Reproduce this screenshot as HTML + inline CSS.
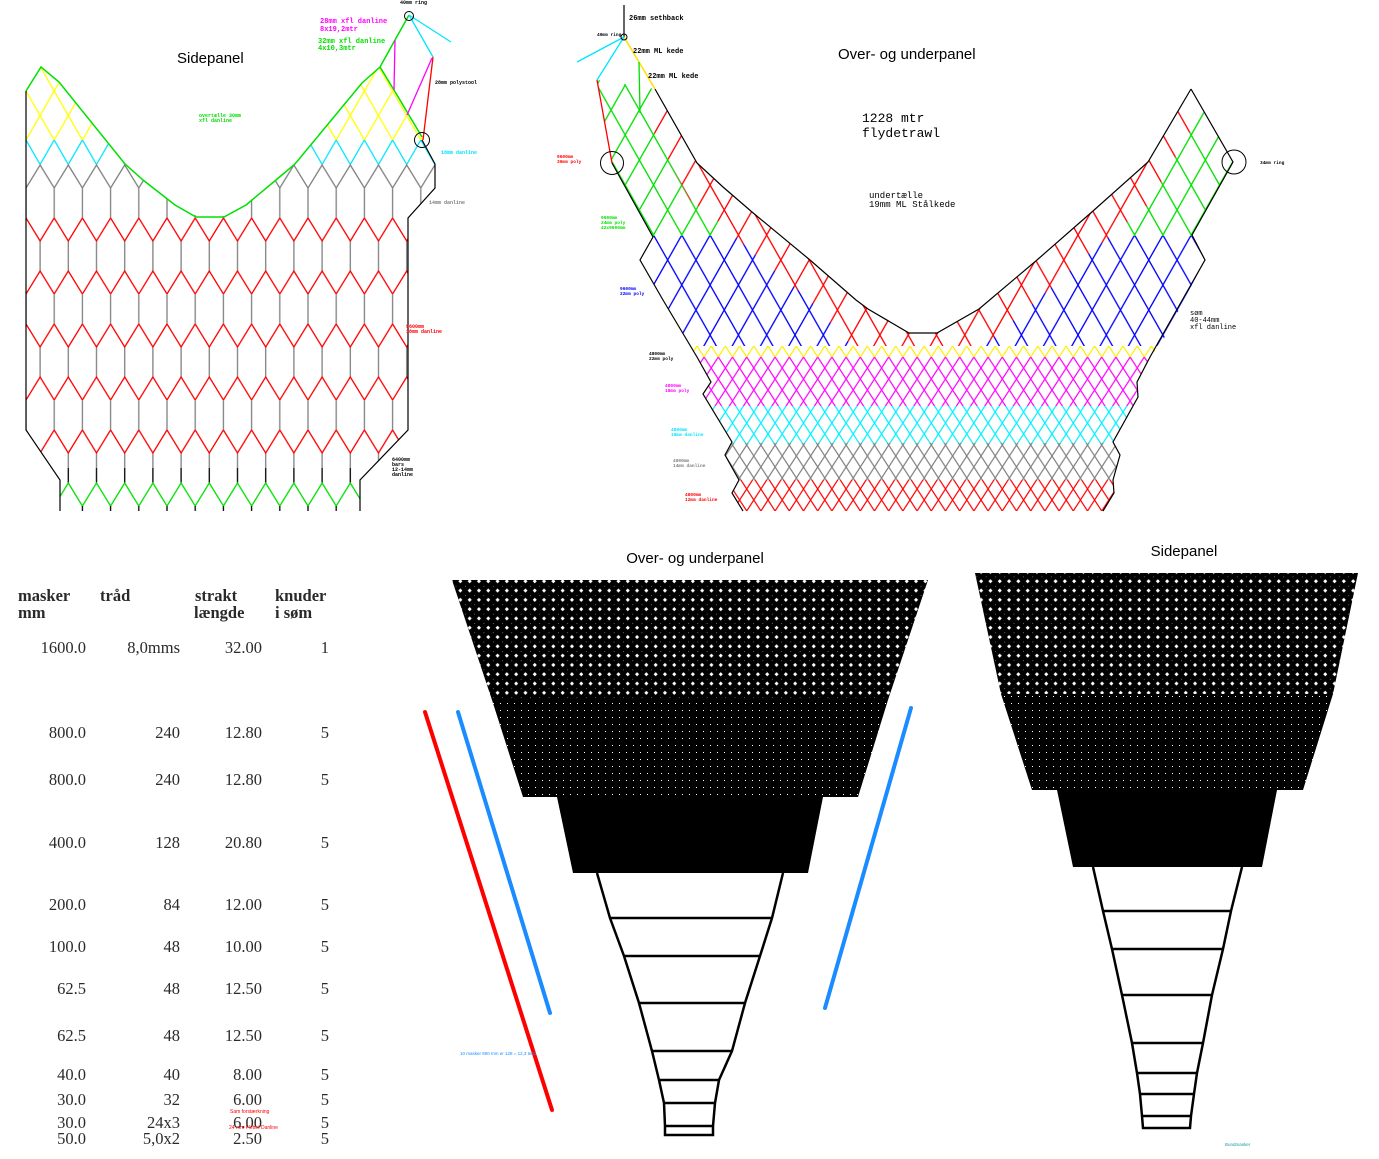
<!DOCTYPE html>
<html><head><meta charset="utf-8"><style>
html,body{margin:0;padding:0;background:#fff;}
svg{display:block}
.t{font-family:"Liberation Sans",sans-serif}
.m{font-family:"Liberation Mono",monospace}
.s{font-family:"Liberation Serif",serif;fill:#2a2a2a;font-size:16.5px}
</style></head><body>
<svg width="1379" height="1159" viewBox="0 0 1379 1159" xmlns="http://www.w3.org/2000/svg">
<defs>
<pattern id="hexR" patternUnits="userSpaceOnUse" x="26" y="188" width="28.2" height="106">
<path d="M0,0V30M28.2,0V30M14.1,53V83" stroke="#808080" stroke-width="1.3" fill="none"/>
<path d="M0,30L14.1,53L28.2,30M0,106L14.1,83L28.2,106" stroke="#ff0000" stroke-width="1.3" fill="none"/>
</pattern>
<pattern id="hexG" patternUnits="userSpaceOnUse" x="26" y="188" width="28.2" height="106">
<path d="M0,0V30M28.2,0V30M14.1,53V83M0,30L14.1,53L28.2,30M0,106L14.1,83L28.2,106" stroke="#808080" stroke-width="1.3" fill="none"/>
</pattern>
<pattern id="hexB" patternUnits="userSpaceOnUse" x="26" y="188" width="28.2" height="106">
<path d="M0,0V30M28.2,0V30M14.1,53V83" stroke="#000" stroke-width="1.3" fill="none"/>
<path d="M0,30L14.1,53L28.2,30M0,106L14.1,83L28.2,106" stroke="#00e000" stroke-width="1.3" fill="none"/>
</pattern>
<pattern id="dY" patternUnits="userSpaceOnUse" x="26" y="140" width="28.2" height="49"><path d="M0,0L28.2,49M28.2,0L0,49" stroke="#ffff00" stroke-width="1.3"/></pattern>
<pattern id="dC" patternUnits="userSpaceOnUse" x="26" y="140" width="28.2" height="49"><path d="M0,0L28.2,49M28.2,0L0,49" stroke="#00e5ff" stroke-width="1.3"/></pattern>
<pattern id="bB" patternUnits="userSpaceOnUse" x="1078" y="235" width="28.3" height="50"><path d="M0,0L28.3,50M28.3,0L0,50" stroke="#0000ff" stroke-width="1.3"/></pattern>
<pattern id="bG" patternUnits="userSpaceOnUse" x="1078" y="235" width="28.3" height="50"><path d="M0,0L28.3,50M28.3,0L0,50" stroke="#00e000" stroke-width="1.3"/></pattern>
<pattern id="bR" patternUnits="userSpaceOnUse" x="1078" y="235" width="28.3" height="50"><path d="M0,0L28.3,50M28.3,0L0,50" stroke="#ff0000" stroke-width="1.3"/></pattern>
<pattern id="fY" patternUnits="userSpaceOnUse" x="697" y="346" width="14.2" height="22"><path d="M0,0L14.2,22M14.2,0L0,22" stroke="#ffee00" stroke-width="1.2"/></pattern>
<pattern id="fM" patternUnits="userSpaceOnUse" x="697" y="346" width="14.2" height="22"><path d="M0,0L14.2,22M14.2,0L0,22" stroke="#ff00ff" stroke-width="1.2"/></pattern>
<pattern id="fC" patternUnits="userSpaceOnUse" x="697" y="346" width="14.2" height="22"><path d="M0,0L14.2,22M14.2,0L0,22" stroke="#00f0ff" stroke-width="1.2"/></pattern>
<pattern id="fG" patternUnits="userSpaceOnUse" x="697" y="346" width="14.2" height="22"><path d="M0,0L14.2,22M14.2,0L0,22" stroke="#808080" stroke-width="1.2"/></pattern>
<pattern id="fR" patternUnits="userSpaceOnUse" x="697" y="346" width="14.2" height="22"><path d="M0,0L14.2,22M14.2,0L0,22" stroke="#ff0000" stroke-width="1.2"/></pattern>
<pattern id="net1" patternUnits="userSpaceOnUse" x="0" y="0" width="9.3" height="9.3">
<rect width="9.3" height="9.3" fill="#000"/>
<path d="M4.65,2.6L6.7,4.65L4.65,6.7L2.6,4.65Z" fill="#fff"/>
<path d="M0,0.9L0.9,0L0,-0.9Z" fill="#fff"/>
</pattern>
<pattern id="net2" patternUnits="userSpaceOnUse" x="0" y="0" width="7" height="7">
<rect width="7" height="7" fill="#000"/>
<rect x="3" y="3" width="1" height="1" fill="#fff"/>
</pattern>
<clipPath id="earL"><polygon points="26,91 41,67 59,82 125,164 26,164"/><polygon points="295,164 362,83 380,67 394,90 422,137 435,164"/></clipPath>
<clipPath id="hexReg"><polygon points="26,164 125,164 143,180 175,204 197,216 224,216 246,204 276,180 295,164 435,164 435,188 408,218 408,430 360,480 360,511 60,511 60,480 26,430"/></clipPath>
<clipPath id="upReg"><polygon points="597,80 655,89 697,163 723,187 752,212 810,260 856,300 868,309 909,333 937,333 979,309 1037,260 1093,211 1148,162 1191,89 1233,162 1192,235 1205,260 1160,346 690,346 663,300 640,260 653,237 612,163"/></clipPath>
<clipPath id="redReg"><polygon points="655,89 697,163 723,187 752,212 810,260 856,300 868,309 909,333 937,333 979,309 1037,260 1093,211 1148,162 1191,89 1191,130 1148,205 1093,250 1037,300 979,350 909,360 856,350 810,300 752,252 723,225 690,200 650,125"/></clipPath>
<clipPath id="fineReg"><polygon points="690,346 1160,346 1150,357 1137,382 1138,397 1113,442 1120,455 1113,480 1114,493 1103,511 743,511 732,493 739,480 725,455 732,442 703,394 711,382 697,357"/></clipPath>
</defs>

<!-- ===== Sidepanel top-left ===== -->
<g clip-path="url(#earL)">
<rect x="0" y="60" width="460" height="80" fill="url(#dY)"/>
<rect x="0" y="140" width="460" height="24" fill="url(#dC)"/>
</g>
<g clip-path="url(#hexReg)">
<rect x="0" y="150" width="460" height="40" fill="url(#hexG)"/>
<rect x="0" y="190" width="460" height="278" fill="url(#hexR)"/>
<rect x="0" y="468" width="460" height="45" fill="url(#hexB)"/>
</g>
<polyline points="26,91 41,67 59,82 125,164 143,180 175,205 196,217 224,217 246,205 276,180 295,164 362,83 380,67 395,40 409,15" fill="none" stroke="#00e000" stroke-width="1.5"/>
<polyline points="380,67 394,90 422,137" fill="none" stroke="#00e000" stroke-width="1.5"/>
<polyline points="26,91 26,430 60,480 60,511" fill="none" stroke="#000" stroke-width="1.2"/>
<polyline points="422,140 435,164 435,188 408,218 408,430 360,480 360,511" fill="none" stroke="#000" stroke-width="1.2"/>
<line x1="409" y1="15" x2="433" y2="57" stroke="#00e5ff" stroke-width="1.3"/>
<line x1="409" y1="15" x2="451" y2="42" stroke="#00e5ff" stroke-width="1.3"/>
<line x1="433" y1="57" x2="423" y2="140" stroke="#ff0000" stroke-width="1.3"/>
<line x1="395" y1="40" x2="394" y2="90" stroke="#ff00ff" stroke-width="1.3"/>
<line x1="432" y1="58" x2="407" y2="115" stroke="#ff00ff" stroke-width="1.3"/>
<circle cx="409" cy="16" r="4.5" fill="none" stroke="#000"/>
<circle cx="422" cy="140" r="7.5" fill="none" stroke="#000"/>
<text class="t" x="177" y="63" font-size="15">Sidepanel</text>
<g class="m" font-size="7" font-weight="bold">
<text x="400" y="4" font-size="5">40mm ring</text>
<text x="320" y="23" fill="#ff00ff">28mm xfl danline</text>
<text x="320" y="31" fill="#ff00ff">8x19,2mtr</text>
<text x="318" y="43" fill="#00e000">32mm xfl danline</text>
<text x="318" y="50" fill="#00e000">4x10,3mtr</text>
<text x="199" y="117" fill="#00e000" font-size="5">overtælle 30mm</text>
<text x="199" y="122" fill="#00e000" font-size="5">xfl danline</text>
<text x="435" y="84" font-size="5">28mm polystool</text>
<text x="441" y="154" fill="#00e5ff" font-size="5">18mm danline</text>
<text x="429" y="204" fill="#808080" font-size="5">14mm danline</text>
<text x="406" y="328" fill="#ff0000" font-size="5">9600mm</text>
<text x="406" y="333" fill="#ff0000" font-size="5">18mm danline</text>
<text x="392" y="461" font-size="5">6400mm</text>
<text x="392" y="466" font-size="5">bars</text>
<text x="392" y="471" font-size="5">12-14mm</text>
<text x="392" y="476" font-size="5">danline</text>
</g>

<!-- ===== Over- og underpanel top-right ===== -->
<g clip-path="url(#upReg)">
<rect x="580" y="60" width="680" height="290" fill="url(#bB)"/>
<rect x="580" y="60" width="680" height="176" fill="#fff"/>
<rect x="580" y="60" width="680" height="176" fill="url(#bG)"/>
<g clip-path="url(#redReg)"><rect x="580" y="60" width="680" height="290" fill="#fff"/><rect x="580" y="60" width="680" height="290" fill="url(#bR)"/></g>
</g>
<g clip-path="url(#fineReg)">
<rect x="680" y="346" width="490" height="11" fill="url(#fY)"/>
<rect x="680" y="357" width="490" height="49" fill="url(#fM)"/>
<rect x="680" y="406" width="490" height="37" fill="url(#fC)"/>
<rect x="680" y="443" width="490" height="37" fill="url(#fG)"/>
<rect x="680" y="480" width="490" height="35" fill="url(#fR)"/>
</g>
<polyline points="612,163 653,237 640,260 663,300 697,357 711,382 703,394 732,442 725,455 739,480 732,493 743,511" fill="none" stroke="#000" stroke-width="1.2"/>
<polyline points="1191,89 1233,162 1192,235 1205,260 1150,357 1137,382 1138,397 1113,442 1120,455 1113,480 1114,493 1103,511" fill="none" stroke="#000" stroke-width="1.2"/>
<polyline points="655,89 697,163 723,187 752,212 810,260 856,300 868,309 909,333 937,333 979,309 1037,260 1093,211 1148,162 1191,89" fill="none" stroke="#000" stroke-width="1.2"/>
<line x1="624" y1="5" x2="624" y2="37" stroke="#000" stroke-width="1.2"/>
<polyline points="624,37 639,62 655,89" fill="none" stroke="#ffe000" stroke-width="1.5"/>
<line x1="639" y1="62" x2="640" y2="113" stroke="#00e000" stroke-width="1.3"/>
<line x1="624" y1="37" x2="577" y2="62" stroke="#00e5ff" stroke-width="1.3"/>
<line x1="624" y1="37" x2="597" y2="80" stroke="#00e5ff" stroke-width="1.3"/>
<line x1="597" y1="80" x2="612" y2="163" stroke="#ff0000" stroke-width="1.3"/>
<circle cx="624" cy="37" r="3" fill="none" stroke="#000"/>
<circle cx="612" cy="163" r="11.5" fill="none" stroke="#000"/>
<circle cx="1234" cy="162" r="12" fill="none" stroke="#000"/>
<text class="t" x="838" y="59" font-size="15">Over- og underpanel</text>
<g class="m" font-weight="bold">
<text x="629" y="20" font-size="7">26mm sethback</text>
<text x="597" y="36" font-size="4.5">40mm ring</text>
<text x="633" y="53" font-size="7">22mm ML kede</text>
<text x="648" y="78" font-size="7">22mm ML kede</text>
<text x="1260" y="164" font-size="4.5">34mm ring</text>
<text x="1190" y="315" font-size="7" font-weight="normal">søm</text>
<text x="1190" y="322" font-size="7" font-weight="normal">40-44mm</text>
<text x="1190" y="329" font-size="7" font-weight="normal">xfl danline</text>
<text x="557" y="158" font-size="4.5" fill="#ff0000">9600mm</text><text x="557" y="163" font-size="4.5" fill="#ff0000">30mm poly</text>
<text x="601" y="219" font-size="4.5" fill="#00e000">9600mm</text><text x="601" y="224" font-size="4.5" fill="#00e000">24mm poly</text><text x="601" y="229" font-size="4.5" fill="#00e000">42x9600mm</text>
<text x="620" y="290" font-size="4.5" fill="#0000ff">9600mm</text><text x="620" y="295" font-size="4.5" fill="#0000ff">22mm poly</text>
<text x="649" y="355" font-size="4.5">4800mm</text><text x="649" y="360" font-size="4.5">22mm poly</text>
<text x="665" y="387" font-size="4.5" fill="#ff00ff">4800mm</text><text x="665" y="392" font-size="4.5" fill="#ff00ff">18mm poly</text>
<text x="671" y="431" font-size="4.5" fill="#00e5ff">4800mm</text><text x="671" y="436" font-size="4.5" fill="#00e5ff">18mm danline</text>
<text x="673" y="462" font-size="4.5" fill="#808080">4800mm</text><text x="673" y="467" font-size="4.5" fill="#808080">14mm danline</text>
<text x="685" y="496" font-size="4.5" fill="#ff0000">4800mm</text><text x="685" y="501" font-size="4.5" fill="#ff0000">12mm danline</text>
</g>
<text class="m" x="862" y="122" font-size="13">1228 mtr</text>
<text class="m" x="862" y="137" font-size="13">flydetrawl</text>
<text class="m" x="869" y="198" font-size="9">undertælle</text>
<text class="m" x="869" y="207" font-size="9">19mm ML Stålkede</text>

<!-- ===== Table ===== -->
<g class="s" font-weight="bold">
<text x="18" y="601">masker</text><text x="18" y="618">mm</text>
<text x="100" y="601">tråd</text>
<text x="195" y="601">strakt</text><text x="194" y="618">længde</text>
<text x="275" y="601">knuder</text><text x="275" y="618">i søm</text>
</g>
<g class="s" text-anchor="end">
<text x="86" y="653">1600.0</text><text x="180" y="653">8,0mms</text><text x="262" y="653">32.00</text><text x="329" y="653">1</text>
<text x="86" y="738">800.0</text><text x="180" y="738">240</text><text x="262" y="738">12.80</text><text x="329" y="738">5</text>
<text x="86" y="785">800.0</text><text x="180" y="785">240</text><text x="262" y="785">12.80</text><text x="329" y="785">5</text>
<text x="86" y="848">400.0</text><text x="180" y="848">128</text><text x="262" y="848">20.80</text><text x="329" y="848">5</text>
<text x="86" y="910">200.0</text><text x="180" y="910">84</text><text x="262" y="910">12.00</text><text x="329" y="910">5</text>
<text x="86" y="952">100.0</text><text x="180" y="952">48</text><text x="262" y="952">10.00</text><text x="329" y="952">5</text>
<text x="86" y="994">62.5</text><text x="180" y="994">48</text><text x="262" y="994">12.50</text><text x="329" y="994">5</text>
<text x="86" y="1041">62.5</text><text x="180" y="1041">48</text><text x="262" y="1041">12.50</text><text x="329" y="1041">5</text>
<text x="86" y="1080">40.0</text><text x="180" y="1080">40</text><text x="262" y="1080">8.00</text><text x="329" y="1080">5</text>
<text x="86" y="1105">30.0</text><text x="180" y="1105">32</text><text x="262" y="1105">6.00</text><text x="329" y="1105">5</text>
<text x="86" y="1128">30.0</text><text x="180" y="1128">24x3</text><text x="262" y="1128">6.00</text><text x="329" y="1128">5</text>
<text x="86" y="1144">50.0</text><text x="180" y="1144">5,0x2</text><text x="262" y="1144">2.50</text><text x="329" y="1144">5</text>
</g>
<text class="t" x="230" y="1113" font-size="5" fill="#ff0000">Sam forstærkning</text>
<text class="t" x="229" y="1129" font-size="5" fill="#ff0000">24 mm Flettet Danline</text>

<!-- ===== Left cone ===== -->
<text class="t" x="695" y="563" font-size="15" text-anchor="middle">Over- og underpanel</text>
<polygon points="452,580 928,580 888,700 492,700" fill="url(#net1)"/>
<polygon points="492,700 888,700 858,797 523,797" fill="url(#net2)"/>
<polygon points="557,797 823,797 808,873 573,873" fill="#000"/>
<g fill="none" stroke="#000" stroke-width="2.5">
<polyline points="597,873 610,918 624,956 639,1003 652,1051 659,1080 664,1103 665,1126 665,1135 713,1135 713,1126 715,1103 719,1080 732,1051 745,1003 760,956 772,918 783,873"/>
<line x1="610" y1="918" x2="772" y2="918"/><line x1="624" y1="956" x2="760" y2="956"/>
<line x1="639" y1="1003" x2="745" y2="1003"/><line x1="652" y1="1051" x2="732" y2="1051"/>
<line x1="659" y1="1080" x2="719" y2="1080"/><line x1="664" y1="1103" x2="715" y2="1103"/>
<line x1="665" y1="1126" x2="713" y2="1126"/>
</g>
<line x1="425" y1="712" x2="552" y2="1110" stroke="#ff0000" stroke-width="4" stroke-linecap="round"/>
<line x1="458" y1="712" x2="550" y2="1013" stroke="#1a8cff" stroke-width="4" stroke-linecap="round"/>
<line x1="911" y1="708" x2="825" y2="1008" stroke="#1a8cff" stroke-width="4" stroke-linecap="round"/>
<text class="t" x="460" y="1055" font-size="4.5" fill="#1a8cff">10 masker 800 mm er 128 = 12,3 tens</text>

<!-- ===== Right cone ===== -->
<text class="t" x="1184" y="556" font-size="15" text-anchor="middle">Sidepanel</text>
<polygon points="975,573 1358,573 1333,694 1001,694" fill="url(#net1)"/>
<polygon points="1001,694 1333,694 1303,790 1032,790" fill="url(#net2)"/>
<polygon points="1057,790 1277,790 1262,867 1073,867" fill="#000"/>
<g fill="none" stroke="#000" stroke-width="2.5">
<polyline points="1093,867 1103,911 1112,949 1122,995 1132,1043 1137,1073 1140,1094 1142,1116 1143,1128 1190,1128 1191,1116 1194,1094 1197,1073 1203,1043 1212,995 1223,949 1231,911 1242,867"/>
<line x1="1103" y1="911" x2="1231" y2="911"/><line x1="1112" y1="949" x2="1223" y2="949"/>
<line x1="1122" y1="995" x2="1212" y2="995"/><line x1="1132" y1="1043" x2="1203" y2="1043"/>
<line x1="1137" y1="1073" x2="1197" y2="1073"/><line x1="1140" y1="1094" x2="1194" y2="1094"/>
<line x1="1142" y1="1116" x2="1191" y2="1116"/>
</g>
<text class="t" x="1225" y="1146" font-size="4.5" fill="#1a9aa0">Bundmasker</text>
</svg>
</body></html>
